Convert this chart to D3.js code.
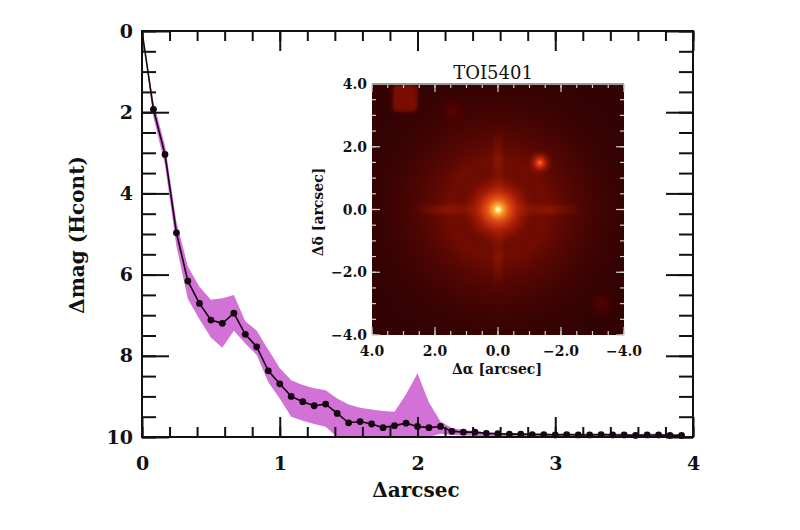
<!DOCTYPE html>
<html><head><meta charset="utf-8">
<script src="https://cdn.jsdelivr.net/npm/d3@7"></script>
<style>body{margin:0;background:#fff}svg{display:block}</style>
</head><body>
<svg id="c" width="800" height="530"></svg>
<script>
// ---- data ----
const sepX = [0,0.083,0.167,0.25,0.333,0.417,0.5,0.583,0.667,0.75,0.833,0.917,1.0,1.083,1.167,1.25,1.333,1.417,1.5,1.583,1.667,1.75,1.833,1.917,2.0,2.083,2.167,2.25,2.333,2.417,2.5,2.583,2.667,2.75,2.833,2.917,3.0,3.083,3.167,3.25,3.333,3.417,3.5,3.583,3.667,3.75,3.833,3.917];
const dmag = [0,1.93,3.04,4.97,6.16,6.71,7.12,7.20,6.95,7.47,7.78,8.37,8.69,9.00,9.13,9.23,9.19,9.42,9.65,9.62,9.68,9.77,9.72,9.66,9.74,9.77,9.74,9.86,9.88,9.88,9.91,9.92,9.93,9.93,9.94,9.94,9.95,9.94,9.95,9.95,9.94,9.95,9.95,9.96,9.95,9.95,9.96,9.96];
const bandLo = [0,1.75,2.82,4.7,5.8,6.3,6.62,6.58,6.5,7.15,7.38,7.85,8.3,8.6,8.72,8.8,8.85,9.05,9.2,9.28,9.32,9.36,9.38,8.95,8.43,9.15,9.62,9.78,9.83,9.86,9.88,9.9,9.9,9.9,9.91,9.91,9.92,9.91,9.92,9.92,9.91,9.92,9.92,9.93,9.92,9.92,9.93,9.93];
const bandHi = [0,2.12,3.3,5.3,6.6,7.1,7.55,7.8,7.38,7.7,7.98,8.65,9.05,9.5,9.6,9.68,9.75,10,10,10,10,10,10,10,10,10,9.92,9.95,9.96,9.97,9.98,10,10,10,10,10,10,10,10,10,10,10,10,10,10,10,10,10];
const xTicks = [0,1,2,3,4];
const yTicks = [0,2,4,6,8,10];
const insetTicks = [4,2,0,-2,-4];
const insetTitle = "TOI5401";
// sources in the inset image (arcsec)
const srcX = [0, -1.33, 2.95, 1.46, -3.3];
const srcY = [0, 1.49, 3.52, 3.14, -3.0];

const svg = d3.select("#c");
const serif = "DejaVu Serif";
const x = d3.scaleLinear().domain([0,4]).range([142,693]);
const y = d3.scaleLinear().domain([0,10]).range([31,437]);

// band
const pts = sepX.map((v,i)=>({x:v,y:dmag[i],lo:bandLo[i],hi:bandHi[i]}));
svg.append("path").datum(pts)
  .attr("d", d3.area().x(d=>x(d.x)).y0(d=>y(Math.min(d.hi,10))).y1(d=>y(d.lo)))
  .attr("fill","#d271d6");
svg.append("path").datum(pts)
  .attr("d", d3.line().x(d=>x(d.x)).y(d=>y(d.y)))
  .attr("fill","none").attr("stroke","#150510").attr("stroke-width",1.6);
svg.append("g").selectAll("circle").data(pts.filter(d=>d.x>0)).join("circle")
  .attr("cx",d=>x(d.x)).attr("cy",d=>y(d.y)).attr("r",3.4).attr("fill","#150510");

// axes
function styleAxis(g, fs){
  g.select(".domain").remove();
  g.selectAll("line").attr("stroke","#111").attr("stroke-width",2);
  g.selectAll("text").attr("font-family",serif).attr("font-weight","bold").attr("font-size",fs).attr("fill","#111");
}
const minorX = d3.range(0,4.0001,0.2);
const minorY = d3.range(0,10.0001,0.5);
svg.append("g").attr("transform","translate(0,437)")
  .call(d3.axisBottom(x).tickValues(minorX).tickSize(-10).tickFormat("")).call(g=>styleAxis(g,19));
svg.append("g").attr("transform","translate(0,437)")
  .call(d3.axisBottom(x).tickValues(xTicks).tickSize(-20).tickPadding(20).tickFormat(d3.format("d"))).call(g=>styleAxis(g,19));
svg.append("g").attr("transform","translate(0,31)")
  .call(d3.axisTop(x).tickValues(minorX).tickSize(-10).tickFormat("")).call(g=>styleAxis(g,19));
svg.append("g").attr("transform","translate(0,31)")
  .call(d3.axisTop(x).tickValues(xTicks).tickSize(-20).tickFormat("")).call(g=>styleAxis(g,19));
svg.append("g").attr("transform","translate(142,0)")
  .call(d3.axisLeft(y).tickValues(minorY).tickSize(-14).tickFormat("")).call(g=>styleAxis(g,19));
svg.append("g").attr("transform","translate(142,0)")
  .call(d3.axisLeft(y).tickValues(yTicks).tickSize(-27).tickPadding(9).tickFormat(d3.format("d"))).call(g=>styleAxis(g,19));
svg.append("g").attr("transform","translate(693,0)")
  .call(d3.axisRight(y).tickValues(minorY).tickSize(-14).tickFormat("")).call(g=>styleAxis(g,19));
svg.append("g").attr("transform","translate(693,0)")
  .call(d3.axisRight(y).tickValues(yTicks).tickSize(-27).tickFormat("")).call(g=>styleAxis(g,19));
svg.append("rect").attr("x",142).attr("y",31).attr("width",551).attr("height",406)
  .attr("fill","none").attr("stroke","#111").attr("stroke-width",2);

svg.append("text").attr("x",416).attr("y",497).attr("text-anchor","middle")
  .attr("font-family",serif).attr("font-weight","bold").attr("font-size",20).attr("fill","#111").text("Δarcsec");
svg.append("text").attr("transform","translate(84,235) rotate(-90)").attr("text-anchor","middle")
  .attr("font-family",serif).attr("font-weight","bold").attr("font-size",20).attr("fill","#111").text("Δmag (Hcont)");

// ---- inset ----
const ix = d3.scaleLinear().domain([4,-4]).range([372,624]);
const iy = d3.scaleLinear().domain([-4,4]).range([335,84]);
const ppa = (ix(0)-ix(1)); // px per arcsec
const defs = svg.append("defs");
defs.append("clipPath").attr("id","clipI").append("rect")
  .attr("x",ix(4)).attr("y",iy(4)).attr("width",ix(-4)-ix(4)).attr("height",iy(-4)-iy(4));
function radial(id, stops){
  const g = defs.append("radialGradient").attr("id",id);
  stops.forEach(s=>g.append("stop").attr("offset",s[0]).attr("stop-color",s[1]).attr("stop-opacity",s[2]));
}
function linear(id, vertical, stops){
  const g = defs.append("linearGradient").attr("id",id)
    .attr("x1",0).attr("y1",0).attr("x2",vertical?0:1).attr("y2",vertical?1:0);
  stops.forEach(s=>g.append("stop").attr("offset",s[0]).attr("stop-color",s[1]).attr("stop-opacity",s[2]));
}
radial("halo",[[0,"#b81c00",1],[0.2,"#9a1400",0.9],[0.45,"#6e0a02",0.7],[0.75,"#4a0503",0.4],[1,"#3a0303",0]]);
radial("core",[[0,"#fffbe8",1],[0.05,"#fff0a0",1],[0.14,"#ffb030",0.95],[0.32,"#f06018",0.85],[0.6,"#d83010",0.5],[1,"#b01800",0]]);
radial("sec",[[0,"#ff6a3a",1],[0.25,"#e03410",0.9],[0.6,"#a01806",0.5],[1,"#700a02",0]]);
radial("blob2",[[0,"#5e0805",1],[1,"#420404",0]]);
linear("spH",false,[[0,"#c02800",0],[0.3,"#c82c00",0.45],[0.5,"#e84808",0.85],[0.7,"#c82c00",0.45],[1,"#c02800",0]]);
linear("spV",true,[[0,"#c02800",0],[0.3,"#c82c00",0.4],[0.5,"#e84808",0.8],[0.7,"#c82c00",0.4],[1,"#c02800",0]]);
const blur = defs.append("filter").attr("id","bl").attr("x","-50%").attr("y","-50%").attr("width","200%").attr("height","200%");
blur.append("feGaussianBlur").attr("stdDeviation",2.2);

const img = svg.append("g").attr("clip-path","url(#clipI)");
img.append("rect").attr("x",ix(4)).attr("y",iy(4)).attr("width",ix(-4)-ix(4)).attr("height",iy(-4)-iy(4)).attr("fill","#330202");
img.append("circle").attr("cx",ix(srcX[0])).attr("cy",iy(srcY[0])).attr("r",4.6*ppa).attr("fill","url(#halo)");
// faint blobs
img.append("rect").attr("x",ix(srcX[2])-0.4*ppa).attr("y",iy(srcY[2])-0.45*ppa).attr("width",0.8*ppa).attr("height",0.85*ppa)
  .attr("rx",5).attr("fill","#7a0c04").attr("filter","url(#bl)");
img.append("circle").attr("cx",ix(srcX[3])).attr("cy",iy(srcY[3])).attr("r",0.55*ppa).attr("fill","url(#blob2)").attr("filter","url(#bl)");
img.append("circle").attr("cx",ix(srcX[4])).attr("cy",iy(srcY[4])).attr("r",0.5*ppa).attr("fill","url(#blob2)").attr("filter","url(#bl)");
// diffraction spikes
img.append("rect").attr("x",ix(2.8)).attr("y",iy(srcY[0])-0.15*ppa).attr("width",ix(-2.8)-ix(2.8)).attr("height",0.3*ppa)
  .attr("fill","url(#spH)").attr("filter","url(#bl)");
img.append("rect").attr("x",ix(srcX[0])-0.15*ppa).attr("y",iy(2.7)).attr("width",0.3*ppa).attr("height",iy(-2.6)-iy(2.7))
  .attr("fill","url(#spV)").attr("filter","url(#bl)");
// mid glow
img.append("circle").attr("cx",ix(srcX[0])).attr("cy",iy(srcY[0])).attr("r",1.6*ppa).attr("fill","url(#halo)").attr("opacity",0.9);
// core
img.append("circle").attr("cx",ix(srcX[0])).attr("cy",iy(srcY[0])).attr("r",1.05*ppa).attr("fill","url(#core)");
// companion
img.append("circle").attr("cx",ix(srcX[1])).attr("cy",iy(srcY[1])).attr("r",0.45*ppa).attr("fill","url(#sec)");

// inset ticks
const tcol = "#cfcfcf";
const minorI = d3.range(-4,4.0001,0.5);
function iTicks(vals, len){
  const g = svg.append("g").attr("stroke",tcol).attr("stroke-width",1.2);
  vals.forEach(v=>{
    g.append("line").attr("x1",ix(v)).attr("x2",ix(v)).attr("y1",iy(-4)).attr("y2",iy(-4)-len);
    g.append("line").attr("x1",ix(v)).attr("x2",ix(v)).attr("y1",iy(4)).attr("y2",iy(4)+len);
    g.append("line").attr("y1",iy(v)).attr("y2",iy(v)).attr("x1",ix(4)).attr("x2",ix(4)+len);
    g.append("line").attr("y1",iy(v)).attr("y2",iy(v)).attr("x1",ix(-4)).attr("x2",ix(-4)-len);
  });
}
iTicks(minorI,4);
iTicks(insetTicks,8);
svg.append("line").attr("x1",ix(4)).attr("x2",ix(-4)).attr("y1",iy(4)).attr("y2",iy(4)).attr("stroke","#9a9a9a").attr("stroke-width",2);

const fmt = d3.format(".1f");
const lab = v => fmt(v).replace("-","\u2212");
svg.append("g").selectAll("text").data(insetTicks).join("text")
  .attr("x",d=>ix(d)).attr("y",356).attr("text-anchor","middle")
  .attr("font-family",serif).attr("font-weight","bold").attr("font-size",14).attr("fill","#111").text(lab);
svg.append("g").selectAll("text").data(insetTicks).join("text")
  .attr("x",367).attr("y",d=>iy(d)).attr("dy","0.36em").attr("text-anchor","end")
  .attr("font-family",serif).attr("font-weight","bold").attr("font-size",14).attr("fill","#111").text(lab);
svg.append("text").attr("x",497).attr("y",374).attr("text-anchor","middle")
  .attr("font-family",serif).attr("font-weight","bold").attr("font-size",14).attr("fill","#111").text("Δα [arcsec]");
svg.append("text").attr("transform","translate(323,212) rotate(-90)").attr("text-anchor","middle")
  .attr("font-family",serif).attr("font-weight","bold").attr("font-size",14).attr("fill","#111").text("Δδ [arcsec]");
svg.append("text").attr("x",493).attr("y",79).attr("text-anchor","middle")
  .attr("font-family",serif).attr("font-size",18).attr("fill","#111").text(insetTitle);
</script>
</body></html>
